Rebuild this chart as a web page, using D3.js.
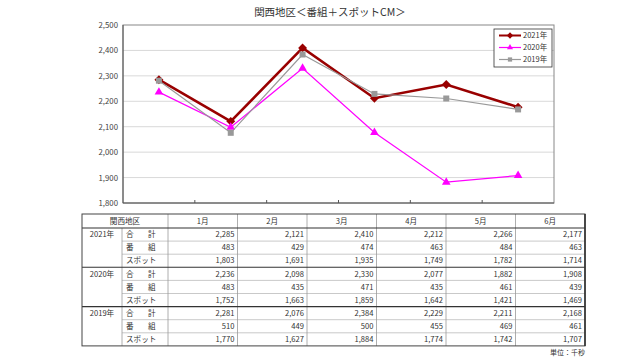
<!DOCTYPE html>
<html><head><meta charset="utf-8">
<script src="https://cdn.jsdelivr.net/npm/d3@7"></script>
<style>
body{margin:0;background:#fff;}
text{font-family:"Noto Sans CJK JP","Noto Sans",sans-serif;}
</style></head>
<body><svg id="c" width="640" height="360"></svg>
<script>
const months = ["1月","2月","3月","4月","5月","6月"];
const yTicks = [1800,1900,2000,2100,2200,2300,2400,2500];
const years = ["2021年","2020年","2019年"];
const total2021 = [2285,2121,2410,2212,2266,2177];
const prog2021  = [483,429,474,463,484,463];
const spot2021  = [1803,1691,1935,1749,1782,1714];
const total2020 = [2236,2098,2330,2077,1882,1908];
const prog2020  = [483,435,471,435,461,439];
const spot2020  = [1752,1663,1859,1642,1421,1469];
const total2019 = [2281,2076,2384,2229,2211,2168];
const prog2019  = [510,449,500,455,469,461];
const spot2019  = [1770,1627,1884,1774,1742,1707];
const rowLabels = ["合　計","番　組","スポット"];
const title = "関西地区＜番組＋スポットCM＞";
const unitLabel = "単位：千秒";

const svg = d3.select("#c");
const L=123,R=554,T=25,B=203;
const x = d3.scaleBand().domain(months).range([L,R]);
const y = d3.scaleLinear().domain([1800,2500]).range([B,T]);

svg.append("text").attr("x",330).attr("y",16).attr("text-anchor","middle")
  .attr("font-size",10.5).attr("fill","#333").text(title);

// grid
svg.append("g").selectAll("line").data(yTicks.slice(1,-1)).join("line")
  .attr("x1",L).attr("x2",R).attr("y1",d=>y(d)).attr("y2",d=>y(d))
  .attr("stroke","#d9d9d9").attr("stroke-width",1);
svg.append("rect").attr("x",L).attr("y",T).attr("width",R-L).attr("height",B-T)
  .attr("fill","none").attr("stroke","#888").attr("stroke-width",1);
svg.append("line").attr("x1",L).attr("x2",L).attr("y1",T).attr("y2",B).attr("stroke","#555");
svg.append("line").attr("x1",L).attr("x2",R).attr("y1",B).attr("y2",B).attr("stroke","#555");

const yAxis = d3.axisLeft(y).tickValues(yTicks).tickSize(0).tickPadding(5).tickFormat(d3.format(","));
const ga = svg.append("g").attr("transform",`translate(${L},0)`).call(yAxis);
ga.select(".domain").remove();
ga.selectAll("text").attr("font-size",7.8).attr("fill","#444").attr("font-family","Liberation Sans, sans-serif");

// x ticks at boundaries
svg.append("g").selectAll("line").data(months.slice(1)).join("line")
  .attr("x1",d=>x(d)).attr("x2",d=>x(d)).attr("y1",B).attr("y2",B-3).attr("stroke","#555");

const series = [
  {name:"2021年",data:total2021,color:"#990000",w:2.6,sym:d3.symbolSquare,rot:45,size:40},
  {name:"2020年",data:total2020,color:"#ff00ff",w:1.2,sym:d3.symbolTriangle,rot:0,size:32},
  {name:"2019年",data:total2019,color:"#999999",w:1.2,sym:d3.symbolSquare,rot:0,size:36},
];
const line = d3.line().x((d,i)=>x(months[i])+x.bandwidth()/2).y(d=>y(d));
series.forEach(s=>{
  const g = svg.append("g");
  g.append("path").attr("d",line(s.data)).attr("fill","none").attr("stroke",s.color).attr("stroke-width",s.w);
  g.selectAll("path.m").data(s.data).join("path").attr("class","m")
    .attr("transform",(d,i)=>`translate(${x(months[i])+x.bandwidth()/2},${y(d)}) rotate(${s.rot})`)
    .attr("d",d3.symbol().type(s.sym).size(s.size)).attr("fill",s.color);
});

// legend
const lg = svg.append("g");
lg.append("rect").attr("x",494).attr("y",29).attr("width",58).attr("height",38)
  .attr("fill","#fff").attr("stroke","#333").attr("stroke-width",0.8);
series.forEach((s,i)=>{
  const yy = 35.5+i*12;
  lg.append("line").attr("x1",499).attr("x2",521).attr("y1",yy).attr("y2",yy).attr("stroke",s.color).attr("stroke-width",Math.min(s.w,2));
  lg.append("path").attr("transform",`translate(510,${yy}) rotate(${s.rot})`).attr("d",d3.symbol().type(s.sym).size(s.size*0.5)).attr("fill",s.color);
  lg.append("text").attr("x",523).attr("y",yy+2.8).attr("font-size",7.5).attr("fill","#333").text(s.name);
});

// table
const tL=82, tR=585, tT=214, hH=14, rH=13.1;
const c1=122, c2=168;
const mw=(tR-c2)/6;
const tx = d3.scaleBand().domain(months).range([c2,tR]);
const tb = svg.append("g").attr("font-size",7.6).attr("fill","#333");
const groups=[[total2021,prog2021,spot2021],[total2020,prog2020,spot2020],[total2019,prog2019,spot2019]];
const fmt=d3.format(",");
const rowsY = i=>tT+hH+i*rH;
for(let i=1;i<9;i++){
  if(i%3===0) continue;
  tb.append("line").attr("x1",c1).attr("x2",tR).attr("y1",rowsY(i)).attr("y2",rowsY(i)).attr("stroke","#bbb").attr("stroke-width",0.8);
}
[c1,c2].concat(months.slice(1).map(m=>tx(m))).forEach((xx,k)=>{
  tb.append("line").attr("x1",xx).attr("x2",xx).attr("y1",k===0?tT+hH:tT).attr("y2",rowsY(9)).attr("stroke","#999").attr("stroke-width",0.8);
});
[rowsY(0),rowsY(3),rowsY(6)].forEach(yy=>{
  tb.append("line").attr("x1",tL).attr("x2",tR).attr("y1",yy).attr("y2",yy).attr("stroke","#333").attr("stroke-width",1.1);
});
tb.append("rect").attr("x",tL).attr("y",tT).attr("width",tR-tL).attr("height",rowsY(9)-tT)
  .attr("fill","none").attr("stroke","#444").attr("stroke-width",1);
tb.append("line").attr("x1",tR).attr("x2",tR).attr("y1",tT).attr("y2",rowsY(9)).attr("stroke","#333").attr("stroke-width",1.6);
tb.append("text").attr("x",(tL+c2)/2).attr("y",tT+hH/2+2.7).attr("text-anchor","middle").text("関西地区");
months.forEach(m=>tb.append("text").attr("x",tx(m)+mw/2).attr("y",tT+hH/2+2.7).attr("text-anchor","middle").text(m));
groups.forEach((g,gi)=>{
  tb.append("text").attr("x",(tL+c1)/2).attr("y",rowsY(gi*3)+rH/2+2.7).attr("text-anchor","middle").text(years[gi]);
  g.forEach((arr,ri)=>{
    const yy=rowsY(gi*3+ri)+rH/2+2.7;
    if(ri<2){
      const ch=rowLabels[ri].split("　");
      tb.append("text").attr("x",126).attr("y",yy).text(ch[0]);
      tb.append("text").attr("x",148).attr("y",yy).text(ch[1]);
    } else tb.append("text").attr("x",126).attr("y",yy).text(rowLabels[ri]);
    arr.forEach((v,mi)=>tb.append("text").attr("x",tx(months[mi])+mw-3).attr("y",yy).attr("text-anchor","end")
      .attr("font-family","Liberation Sans, sans-serif").text(fmt(v)));
  });
});
svg.append("text").attr("x",585).attr("y",355).attr("text-anchor","end").attr("font-size",7).attr("fill","#333").text(unitLabel);
</script></body></html>
